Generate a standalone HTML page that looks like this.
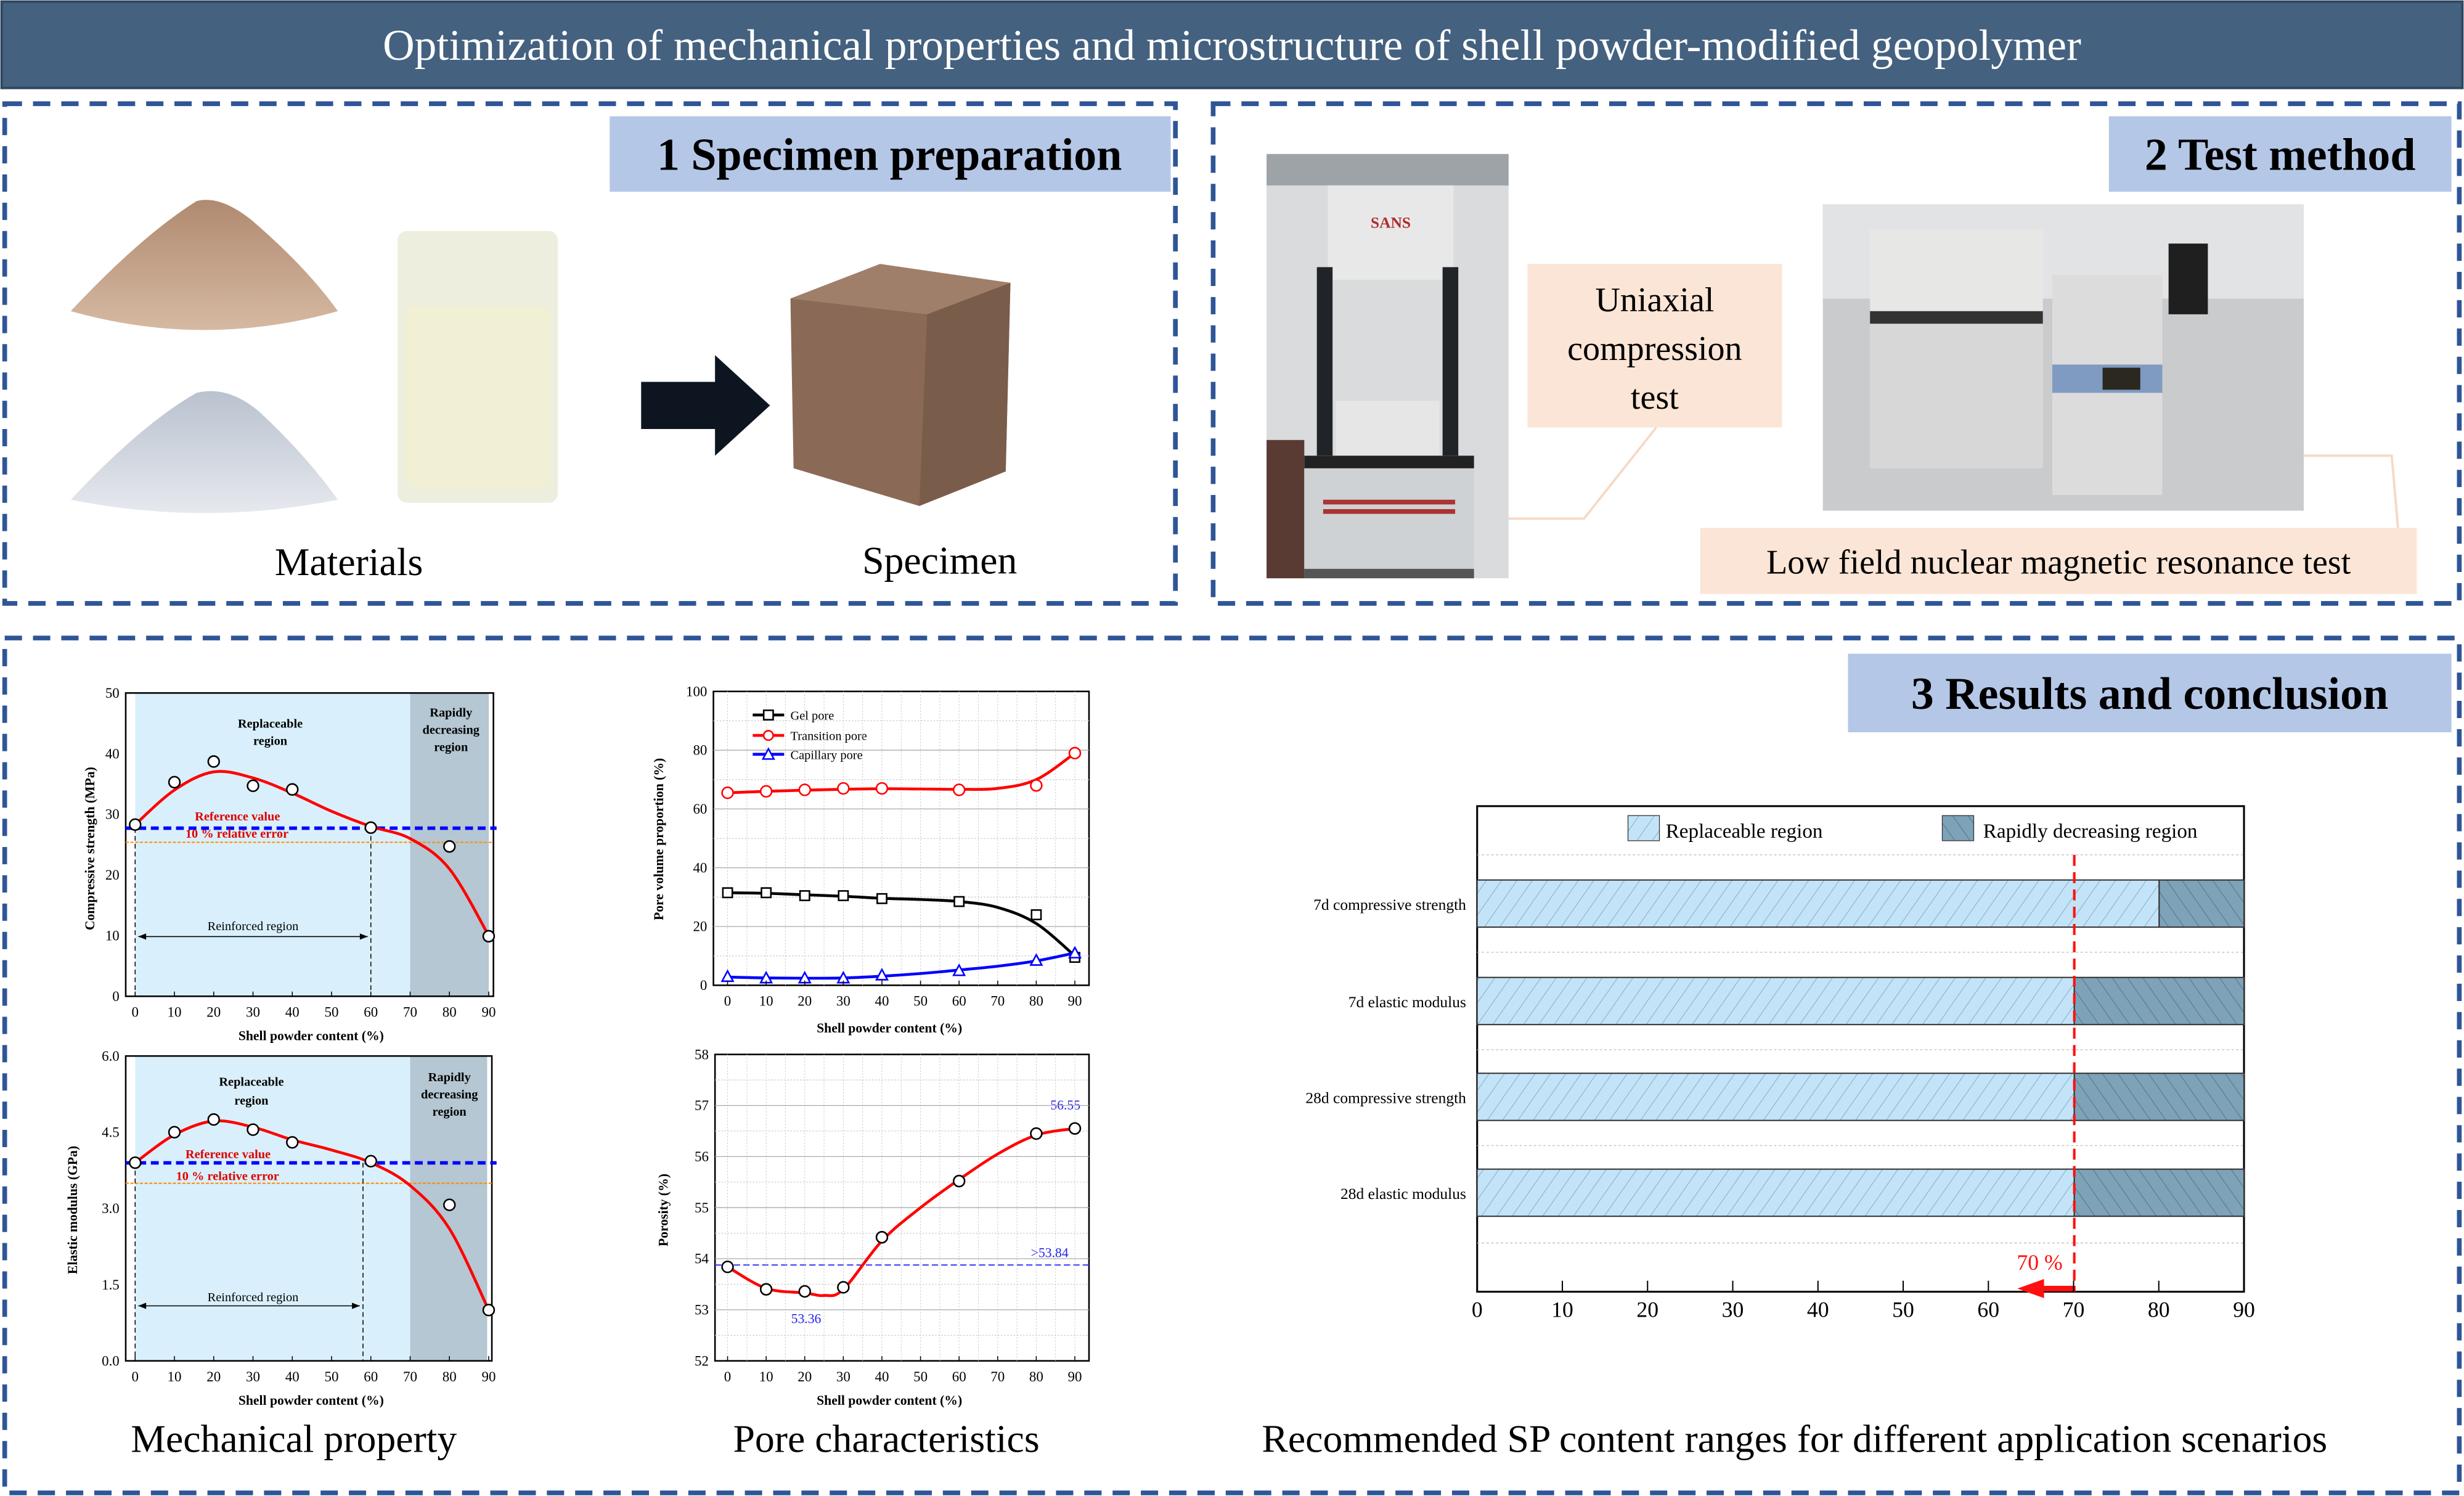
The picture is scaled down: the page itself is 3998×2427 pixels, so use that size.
<!DOCTYPE html>
<html><head><meta charset="utf-8"><style>
html,body{margin:0;padding:0;background:#fff;}
svg{display:block;font-family:"Liberation Serif",serif;}
</style></head><body>
<svg id="s" width="3998" height="2427" viewBox="0 0 1568 952" preserveAspectRatio="none" xmlns="http://www.w3.org/2000/svg">
<defs>
<pattern id="hl" width="8" height="8" patternUnits="userSpaceOnUse" patternTransform="rotate(35)"><rect width="8" height="8" fill="#c3e4f8"/><line x1="0" y1="0" x2="0" y2="8" stroke="#6a8aa0" stroke-width="0.5"/></pattern>
<pattern id="hd" width="8" height="8" patternUnits="userSpaceOnUse" patternTransform="rotate(-35)"><rect width="8" height="8" fill="#7ea2b8"/><line x1="0" y1="0" x2="0" y2="8" stroke="#3d5a6c" stroke-width="0.5"/></pattern>
<linearGradient id="pb" x1="0" y1="0" x2="0" y2="1"><stop offset="0" stop-color="#b08a70"/><stop offset="1" stop-color="#d6b9a2"/></linearGradient>
<linearGradient id="pw" x1="0" y1="0" x2="0" y2="1"><stop offset="0" stop-color="#b9c2cf"/><stop offset="1" stop-color="#e6e9ee"/></linearGradient>
</defs>
<rect x="1" y="1" width="1566" height="55" fill="#44617f" stroke="#2e4660" stroke-width="1.5"/>
<text x="784" y="38" font-size="28" fill="#fff" text-anchor="middle">Optimization of mechanical properties and microstructure of shell powder-modified geopolymer</text>
<g fill="none" stroke="#2f5597" stroke-width="3" stroke-dasharray="11 7">
<rect x="3" y="66" width="745" height="318"/>
<rect x="772" y="66" width="793" height="318"/>
<rect x="3" y="406" width="1562" height="544"/>
</g>
<rect x="388" y="74" width="357" height="48" fill="#b4c7e7"/>
<text x="566" y="108" font-size="29" font-weight="bold" text-anchor="middle">1 Specimen preparation</text>
<rect x="1342" y="74" width="218" height="48" fill="#b4c7e7"/>
<text x="1451" y="108" font-size="29" font-weight="bold" text-anchor="middle">2 Test method</text>
<rect x="1176" y="416" width="384" height="50" fill="#b4c7e7"/>
<text x="1368" y="451" font-size="29" font-weight="bold" text-anchor="middle">3 Results and conclusion</text>
<path d="M45 198 Q90 150 125 128 Q140 124 160 140 Q195 170 215 198 Q130 222 45 198Z" fill="url(#pb)"/>
<path d="M45 318 Q90 270 125 250 Q145 245 165 262 Q195 290 215 318 Q130 335 45 318Z" fill="url(#pw)"/>
<rect x="253" y="147" width="102" height="173" rx="6" fill="#eeeede"/>
<rect x="258" y="195" width="92" height="115" rx="5" fill="#f1f0d5"/>
<path d="M408 243 L455 243 L455 226 L490 258 L455 290 L455 273 L408 273Z" fill="#0d1520"/>
<path d="M503 190 L560 168 L643 180 L640 300 L585 322 L505 298Z" fill="#8a6a57"/>
<path d="M503 190 L560 168 L643 180 L590 200Z" fill="#a07f6a"/>
<path d="M590 200 L643 180 L640 300 L585 322Z" fill="#7a5c4b"/>
<text x="222" y="366" font-size="25" text-anchor="middle">Materials</text>
<text x="598" y="365" font-size="25" text-anchor="middle">Specimen</text>
<rect x="806" y="98" width="154" height="270" fill="#d9dbdc"/>
<rect x="806" y="98" width="154" height="20" fill="#9ea3a8"/>
<rect x="806" y="280" width="24" height="88" fill="#5a3b33"/>
<rect x="845" y="118" width="80" height="60" fill="#e8e8e8"/>
<text x="885" y="145" font-size="10" fill="#b02a2a" text-anchor="middle" font-weight="bold">SANS</text>
<rect x="838" y="170" width="10" height="120" fill="#202428"/><rect x="918" y="170" width="10" height="120" fill="#202428"/>
<rect x="850" y="255" width="66" height="40" fill="#e6e6e6"/>
<rect x="830" y="290" width="108" height="72" fill="#cfd2d4"/>
<rect x="830" y="290" width="108" height="8" fill="#222"/>
<rect x="842" y="318" width="84" height="3" fill="#a33"/><rect x="842" y="324" width="84" height="3" fill="#a33"/>
<rect x="830" y="362" width="108" height="6" fill="#555"/>
<rect x="972" y="168" width="162" height="104" fill="#fbe5d6"/>
<text x="1053" y="198" font-size="22" text-anchor="middle">Uniaxial</text>
<text x="1053" y="229" font-size="22" text-anchor="middle">compression</text>
<text x="1053" y="260" font-size="22" text-anchor="middle">test</text>
<polyline points="1054,272 1008,330 960,330" fill="none" stroke="#f6d9c5" stroke-width="1.5"/>
<rect x="1160" y="130" width="306" height="195" fill="#c9cbcc"/>
<rect x="1160" y="130" width="306" height="60" fill="#e1e3e4"/>
<rect x="1190" y="146" width="110" height="152" fill="#e7e8e6"/>
<rect x="1190" y="203" width="110" height="95" fill="#d6d7d6"/>
<rect x="1190" y="198" width="110" height="8" fill="#333"/>
<rect x="1306" y="175" width="70" height="140" fill="#dcdcdc"/>
<rect x="1306" y="232" width="70" height="18" fill="#7f9bc2"/>
<rect x="1338" y="234" width="24" height="14" fill="#2b2820"/>
<rect x="1380" y="155" width="25" height="45" fill="#1f1f1f"/>
<rect x="1082" y="336" width="456" height="42" fill="#fbe5d6"/>
<text x="1310" y="365" font-size="22" text-anchor="middle">Low field nuclear magnetic resonance test</text>
<polyline points="1466,290 1522,290 1526,336" fill="none" stroke="#f6d9c5" stroke-width="1.5"/>
<g font-size="9">
<rect x="86" y="441" width="175" height="193" fill="#d9f0fc"/>
<rect x="261" y="441" width="50" height="193" fill="#b4c7d2"/>
<rect x="80" y="441" width="234" height="193" fill="none" stroke="#000" stroke-width="1"/>
<line x1="80" y1="527" x2="316" y2="527" stroke="#0000ff" stroke-width="2.2" stroke-dasharray="5 3"/>
<line x1="80" y1="536" x2="314" y2="536" stroke="#ff8c00" stroke-width="0.8" stroke-dasharray="2 1"/>
<line x1="86" y1="527" x2="86" y2="634" stroke="#000" stroke-width="0.6" stroke-dasharray="3 2"/>
<line x1="236" y1="527" x2="236" y2="634" stroke="#000" stroke-width="0.6" stroke-dasharray="3 2"/>
<line x1="88" y1="596" x2="234" y2="596" stroke="#000" stroke-width="0.6"/>
<path d="M88 596 l5 -2 v4z M234 596 l-5 -2 v4z"/>
<text x="161" y="592" font-size="8" text-anchor="middle">Reinforced region</text>
<text x="172" y="463" font-size="8" text-anchor="middle" font-weight="bold">Replaceable</text>
<text x="172" y="474" font-size="8" text-anchor="middle" font-weight="bold">region</text>
<text x="287" y="456" font-size="8" text-anchor="middle" font-weight="bold">Rapidly</text>
<text x="287" y="467" font-size="8" text-anchor="middle" font-weight="bold">decreasing</text>
<text x="287" y="478" font-size="8" text-anchor="middle" font-weight="bold">region</text>
<text x="124" y="522" font-size="8" fill="#e00000" font-weight="bold">Reference value</text>
<text x="118" y="533" font-size="8" fill="#e00000" font-weight="bold">10 % relative error</text>
<text x="60" y="540" font-size="8.5" font-weight="bold" text-anchor="middle" transform="rotate(-90 60 540)">Compressive strength (MPa)</text>
<text x="198" y="662" font-size="8.5" font-weight="bold" text-anchor="middle">Shell powder content (%)</text>
</g>
<g font-size="9">
<rect x="86" y="672" width="175" height="194" fill="#d9f0fc"/>
<rect x="261" y="672" width="49" height="194" fill="#b4c7d2"/>
<rect x="80" y="672" width="233" height="194" fill="none" stroke="#000" stroke-width="1"/>
<line x1="80" y1="740" x2="316" y2="740" stroke="#0000ff" stroke-width="2.2" stroke-dasharray="5 3"/>
<line x1="80" y1="753" x2="314" y2="753" stroke="#ff8c00" stroke-width="0.8" stroke-dasharray="2 1"/>
<line x1="86" y1="740" x2="86" y2="866" stroke="#000" stroke-width="0.6" stroke-dasharray="3 2"/>
<line x1="231" y1="740" x2="231" y2="866" stroke="#000" stroke-width="0.6" stroke-dasharray="3 2"/>
<line x1="88" y1="831" x2="229" y2="831" stroke="#000" stroke-width="0.6"/>
<path d="M88 831 l5 -2 v4z M229 831 l-5 -2 v4z"/>
<text x="161" y="828" font-size="8" text-anchor="middle">Reinforced region</text>
<text x="160" y="691" font-size="8" text-anchor="middle" font-weight="bold">Replaceable</text>
<text x="160" y="703" font-size="8" text-anchor="middle" font-weight="bold">region</text>
<text x="286" y="688" font-size="8" text-anchor="middle" font-weight="bold">Rapidly</text>
<text x="286" y="699" font-size="8" text-anchor="middle" font-weight="bold">decreasing</text>
<text x="286" y="710" font-size="8" text-anchor="middle" font-weight="bold">region</text>
<text x="118" y="737" font-size="8" fill="#e00000" font-weight="bold">Reference value</text>
<text x="112" y="751" font-size="8" fill="#e00000" font-weight="bold">10 % relative error</text>
<text x="49" y="770" font-size="8.5" font-weight="bold" text-anchor="middle" transform="rotate(-90 49 770)">Elastic modulus (GPa)</text>
<text x="198" y="894" font-size="8.5" font-weight="bold" text-anchor="middle">Shell powder content (%)</text>
</g>
<g font-size="9">
<rect x="454" y="440" width="239" height="187" fill="#fff" stroke="#000" stroke-width="1"/>
<text x="422" y="534" font-size="8.5" font-weight="bold" text-anchor="middle" transform="rotate(-90 422 534)">Pore volume proportion (%)</text>
<text x="566" y="657" font-size="8.5" font-weight="bold" text-anchor="middle">Shell powder content (%)</text>
<text x="503" y="458" font-size="8">Gel pore</text>
<text x="503" y="471" font-size="8">Transition pore</text>
<text x="503" y="483" font-size="8">Capillary pore</text>
<rect x="455" y="671" width="238" height="195" fill="#fff" stroke="#000" stroke-width="1"/>
<line x1="455" y1="805" x2="693" y2="805" stroke="#3333ff" stroke-width="0.8" stroke-dasharray="4 2"/>
<text x="425" y="770" font-size="8.5" font-weight="bold" text-anchor="middle" transform="rotate(-90 425 770)">Porosity (%)</text>
<text x="566" y="894" font-size="8.5" font-weight="bold" text-anchor="middle">Shell powder content (%)</text>
<text x="678" y="706" font-size="8.5" fill="#2222ee" text-anchor="middle">56.55</text>
<text x="668" y="800" font-size="8.5" fill="#2222ee" text-anchor="middle">&gt;53.84</text>
<text x="513" y="842" font-size="8.5" fill="#2222ee" text-anchor="middle">53.36</text>
</g>
<g id="charts" font-family="Liberation Serif,serif"></g>
<g>
<rect x="940" y="513" width="488" height="309" fill="#fff" stroke="#000" stroke-width="1.2"/>
<g stroke="#bbb" stroke-width="0.5" stroke-dasharray="1.5 1.5">
<line x1="940" y1="544" x2="1428" y2="544"/><line x1="940" y1="606" x2="1428" y2="606"/><line x1="940" y1="668" x2="1428" y2="668"/><line x1="940" y1="729" x2="1428" y2="729"/><line x1="940" y1="791" x2="1428" y2="791"/>
</g>
<rect x="1036" y="519" width="20" height="16" fill="url(#hl)" stroke="#333" stroke-width="0.5"/>
<text x="1060" y="533" font-size="13">Replaceable region</text>
<rect x="1236" y="519" width="20" height="16" fill="url(#hd)" stroke="#333" stroke-width="0.5"/>
<text x="1262" y="533" font-size="13">Rapidly decreasing region</text>
<g stroke="#333" stroke-width="0.8">
<rect x="940" y="560" width="434" height="30" fill="url(#hl)"/><rect x="1374" y="560" width="54" height="30" fill="url(#hd)"/>
<rect x="940" y="622" width="380" height="30" fill="url(#hl)"/><rect x="1320" y="622" width="108" height="30" fill="url(#hd)"/>
<rect x="940" y="683" width="380" height="30" fill="url(#hl)"/><rect x="1320" y="683" width="108" height="30" fill="url(#hd)"/>
<rect x="940" y="744" width="380" height="30" fill="url(#hl)"/><rect x="1320" y="744" width="108" height="30" fill="url(#hd)"/>
</g>
<g font-size="10" text-anchor="end">
<text x="933" y="579">7d compressive strength</text>
<text x="933" y="641">7d elastic modulus</text>
<text x="933" y="702">28d compressive strength</text>
<text x="933" y="763">28d elastic modulus</text>
</g>
<line x1="1320" y1="544" x2="1320" y2="822" stroke="#ff1010" stroke-width="1.6" stroke-dasharray="7 4"/>
<path d="M1320 819 L1300 819 L1300 815 L1286 820 L1300 825 L1300 821 L1320 821Z" fill="#ff1010" stroke="#ff1010" stroke-width="1.5"/>
<text x="1298" y="808" font-size="14" fill="#ff1010" text-anchor="middle">70 %</text>
<g id="bx" font-size="14" text-anchor="middle"></g>
</g>
<g font-size="25" text-anchor="middle">
<text x="187" y="924">Mechanical property</text>
<text x="564" y="924">Pore characteristics</text>
<text x="1142" y="924">Recommended SP content ranges for different application scenarios</text>
</g>
<g id="ticks" font-size="9" text-anchor="middle"></g>
</svg>
<script>
var NS="http://www.w3.org/2000/svg",G=document.getElementById("charts"),T=document.getElementById("ticks");
function el(t,a,p){var e=document.createElementNS(NS,t);for(var k in a)e.setAttribute(k,a[k]);(p||G).appendChild(e);return e;}
function cr(pts){var d="M"+pts[0][0]+" "+pts[0][1];for(var i=0;i<pts.length-1;i++){var p0=pts[i-1]||pts[i],p1=pts[i],p2=pts[i+1],p3=pts[i+2]||p2;d+=" C"+(p1[0]+(p2[0]-p0[0])/6)+" "+(p1[1]+(p2[1]-p0[1])/6)+" "+(p2[0]-(p3[0]-p1[0])/6)+" "+(p2[1]-(p3[1]-p1[1])/6)+" "+p2[0]+" "+p2[1];}return d;}
function chart(o){
 var X=function(v){return o.x0+v*(o.x1-o.x0)/90},Y=function(v){return o.yb-(v-o.ymin)*(o.yb-o.yt)/(o.ymax-o.ymin)};
 if(o.grid){for(var v=0;v<=90;v+=5)el("line",{x1:X(v),x2:X(v),y1:o.yt,y2:o.yb,stroke:"#ccc","stroke-width":0.4,"stroke-dasharray":"1 1"});
  for(var i=1;i<o.n*2;i++){var yy=o.yt+(o.yb-o.yt)*i/(o.n*2);el("line",{x1:o.fx,x2:o.fr,y1:yy,y2:yy,stroke:i%2?"#ccc":"#aaa","stroke-width":0.5,"stroke-dasharray":i%2?"1 1":"none"});}}
 o.series.forEach(function(s){
  el("path",{d:cr(s.c.map(function(p){return[X(p[0]),Y(p[1])]})),fill:"none",stroke:s.col,"stroke-width":1.8});
  s.d.forEach(function(p){var x=X(p[0]),y=Y(p[1]);
   if(s.m=="s")el("rect",{x:x-3,y:y-3,width:6,height:6,fill:"#fff",stroke:s.mc||s.col,"stroke-width":1});
   else if(s.m=="t")el("path",{d:"M"+x+" "+(y-3.5)+" L"+(x+3.5)+" "+(y+3)+" L"+(x-3.5)+" "+(y+3)+"Z",fill:"#fff",stroke:s.col,"stroke-width":1});
   else el("circle",{cx:x,cy:y,r:3.5,fill:"#fff",stroke:s.mc||s.col,"stroke-width":1});});
 });
 [0,10,20,30,40,50,60,70,80,90].forEach(function(v){el("text",{x:X(v),y:o.yb+13},T).textContent=v;el("line",{x1:X(v),x2:X(v),y1:o.yb,y2:o.yb-3,stroke:"#000","stroke-width":0.6});});
 o.yl.forEach(function(v,i){var t=el("text",{x:o.fx-4,y:Y(v)+3,"text-anchor":"end"},T);t.textContent=o.ylab[i];});
}
var xs=[0,10,20,30,40,60,80,90];
function z(a){return a.map(function(v,i){return[xs[i],v]})}
chart({x0:86,x1:311,yb:634,yt:441,ymin:0,ymax:50,fx:80,fr:314,yl:[0,10,20,30,40,50],ylab:["0","10","20","30","40","50"],
 series:[{col:"#ff0000",mc:"#000",m:"c",c:[[0,28.3],[10,34],[20,37],[30,36],[40,33.5],[50,30.5],[60,28],[70,26],[80,21],[90,10]],d:z([28.3,35.3,38.7,34.7,34.1,27.8,24.7,9.9])}]});
chart({x0:86,x1:311,yb:866,yt:672,ymin:0,ymax:6,fx:80,fr:313,yl:[0,1.5,3,4.5,6],ylab:["0.0","1.5","3.0","4.5","6.0"],
 series:[{col:"#ff0000",mc:"#000",m:"c",c:[[0,3.9],[10,4.45],[20,4.72],[30,4.6],[40,4.35],[50,4.15],[60,3.9],[70,3.45],[80,2.6],[90,1.0]],d:z([3.9,4.5,4.75,4.55,4.3,3.93,3.07,1.0])}]});
chart({x0:463,x1:684,yb:627,yt:440,ymin:0,ymax:100,fx:454,fr:693,grid:1,n:5,yl:[0,20,40,60,80,100],ylab:["0","20","40","60","80","100"],
 series:[{col:"#000",m:"s",c:[[0,31.5],[10,31.3],[20,30.8],[30,30.3],[40,29.6],[50,29.2],[60,28.5],[70,26.5],[80,21],[90,10]],d:z([31.5,31.5,30.5,30.5,29.5,28.5,24,9.5])},
  {col:"#ff0000",m:"c",c:[[0,65.5],[10,66],[20,66.4],[30,66.7],[40,66.9],[50,66.8],[60,66.7],[70,67],[80,70],[90,79]],d:z([65.5,66,66.5,67,67,66.5,68,79])},
  {col:"#0000ff",m:"t",c:[[0,2.8],[10,2.5],[20,2.4],[30,2.5],[40,3.1],[50,4],[60,5.2],[70,6.5],[80,8.3],[90,11]],d:z([3,2.5,2.5,2.5,3.5,5,8.5,11])}]});
chart({x0:463,x1:684,yb:866,yt:671,ymin:52,ymax:58,fx:455,fr:693,grid:1,n:6,yl:[52,53,54,55,56,57,58],ylab:["52","53","54","55","56","57","58"],
 series:[{col:"#ff0000",mc:"#000",m:"c",c:[[0,53.84],[10,53.42],[20,53.33],[25,53.28],[30,53.4],[40,54.35],[50,55],[60,55.55],[70,56.05],[80,56.42],[90,56.55]],d:z([53.84,53.4,53.36,53.44,54.42,55.52,56.45,56.55])}]});
[[458,"#000","s"],[471,"#ff0000","c"],[483,"#0000ff","t"]].forEach(function(l){el("line",{x1:479,x2:499,y1:l[0]-3,y2:l[0]-3,stroke:l[1],"stroke-width":1.8});
 var x=489,y=l[0]-3;if(l[2]=="s")el("rect",{x:x-3,y:y-3,width:6,height:6,fill:"#fff",stroke:l[1]});else if(l[2]=="c")el("circle",{cx:x,cy:y,r:3,fill:"#fff",stroke:l[1]});else el("path",{d:"M"+x+" "+(y-3.5)+" L"+(x+3.5)+" "+(y+3)+" L"+(x-3.5)+" "+(y+3)+"Z",fill:"#fff",stroke:l[1]});});
var bx=document.getElementById("bx");
for(var v=0;v<=90;v+=10){var x=940+v*488/90;el("text",{x:x,y:838},bx).textContent=v;el("line",{x1:x,x2:x,y1:822,y2:815,stroke:"#000","stroke-width":0.8},bx);}
</script>
</body></html>
